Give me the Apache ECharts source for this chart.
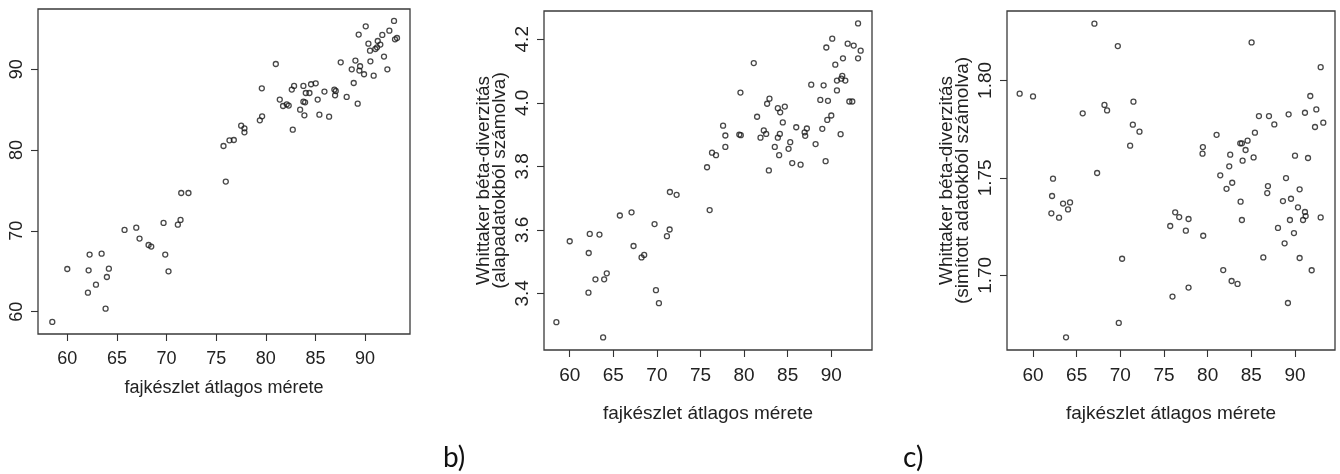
<!DOCTYPE html>
<html>
<head>
<meta charset="utf-8">
<script src="https://cdn.jsdelivr.net/npm/echarts@6/dist/echarts.min.js"></script>
<style>
  html, body { margin: 0; padding: 0; background: #fff; }
  #chart { width: 1340px; height: 474px; }
</style>
</head>
<body>
<div id="chart"></div>
<script>
// panel a: fajkészlet vs. ? (no y title)
const xA = [58.49,60.0,62.08,62.15,62.25,62.89,63.46,63.86,63.99,64.19,65.77,66.95,67.28,68.19,68.46,69.70,69.87,70.20,71.14,71.41,71.48,72.21,75.74,75.97,76.34,76.78,77.52,77.85,77.85,79.40,79.63,79.60,81.01,81.41,81.74,82.11,82.31,82.62,82.85,82.72,83.46,83.79,83.79,83.96,83.89,84.03,84.40,84.56,85.03,85.23,85.40,85.91,86.38,86.91,86.98,87.05,87.55,88.15,88.66,88.86,89.03,89.26,89.36,89.43,89.50,89.90,90.07,90.34,90.54,90.50,90.87,91.04,91.21,91.28,91.54,91.74,91.91,92.25,92.45,92.92,93.02,93.22]
const yA = [58.72,65.28,62.35,65.12,67.06,63.34,67.18,60.37,64.29,65.32,70.11,70.40,69.04,68.25,68.05,70.98,67.06,64.99,70.77,71.35,74.69,74.69,80.51,76.10,81.21,81.25,83.03,82.70,82.20,83.69,84.18,87.65,90.66,86.25,85.46,85.67,85.51,87.49,87.94,82.53,85.01,87.94,86.00,85.92,84.31,87.07,87.07,88.15,88.27,86.25,84.39,87.24,84.14,87.49,86.78,87.32,90.87,86.58,90.00,88.31,91.08,85.75,94.30,89.84,90.38,89.39,95.33,93.18,90.99,92.31,89.22,92.52,92.73,93.51,93.06,94.26,91.58,90.00,94.79,95.99,93.72,93.88]

// panel b: Whittaker béta-diverzitás (alapadatokból)
const xB = [58.47,60.0,62.15,62.18,62.30,62.95,63.41,63.83,63.95,64.25,65.75,67.09,67.32,68.24,68.54,69.73,69.89,70.23,71.15,71.46,71.49,72.26,75.75,76.05,76.32,76.78,77.59,77.85,77.85,79.45,79.58,79.62,81.11,81.49,81.88,82.26,82.53,82.64,82.91,82.84,83.52,83.87,83.87,84.02,84.14,84.10,84.44,84.67,85.10,85.29,85.52,85.98,86.48,86.94,87.01,87.20,87.70,88.20,88.74,88.97,89.12,89.35,89.43,89.62,89.54,90.0,90.11,90.46,90.65,90.65,91.07,91.15,91.26,91.34,91.61,91.88,92.07,92.41,92.57,93.07,93.07,93.37]
const yB = [3.309,3.564,3.402,3.527,3.587,3.444,3.585,3.261,3.444,3.463,3.645,3.655,3.549,3.513,3.521,3.618,3.410,3.369,3.580,3.601,3.719,3.710,3.797,3.662,3.843,3.835,3.928,3.897,3.861,3.900,4.032,3.898,4.125,3.956,3.890,3.913,3.902,3.997,4.013,3.787,3.861,3.983,3.890,3.835,3.970,3.902,3.938,3.988,3.855,3.876,3.810,3.923,3.805,3.907,3.896,3.919,4.057,3.870,4.009,3.918,4.055,3.816,4.174,4.006,3.946,3.960,4.202,4.120,4.039,4.070,3.901,4.076,4.085,4.140,4.070,4.186,4.004,4.004,4.180,4.250,4.140,4.164]

// panel c: Whittaker béta-diverzitás (simított adatokból)
const xC = [58.47,60.0,62.10,62.18,62.29,62.98,63.44,63.78,64.01,64.24,65.69,67.03,67.34,68.18,68.48,69.71,69.82,70.20,71.12,71.43,71.50,72.19,75.71,75.97,76.28,76.74,77.50,77.81,77.81,79.49,79.45,79.41,81.02,81.44,81.78,82.16,82.47,82.58,82.81,82.74,83.42,83.77,83.73,83.92,84.00,83.92,84.34,84.57,85.03,85.26,85.41,85.87,86.37,86.82,86.90,87.02,87.63,88.05,88.62,88.81,88.97,89.27,89.19,89.42,89.54,89.88,90.0,90.34,90.53,90.53,90.92,91.14,91.22,91.14,91.49,91.75,91.91,92.29,92.44,92.94,92.94,93.24]
const yC = [1.7932,1.7918,1.7318,1.7407,1.7496,1.7296,1.7368,1.6682,1.7338,1.7374,1.7831,1.8291,1.7525,1.7874,1.7846,1.8176,1.6756,1.7085,1.7665,1.7773,1.7891,1.7737,1.7253,1.6891,1.7323,1.7299,1.7229,1.7289,1.6937,1.7203,1.7658,1.7624,1.7721,1.7513,1.7027,1.7444,1.7559,1.7619,1.7475,1.6971,1.6956,1.7378,1.7677,1.7284,1.7588,1.7677,1.7643,1.7691,1.8195,1.7605,1.7732,1.7817,1.7092,1.7422,1.7458,1.7817,1.7774,1.7243,1.7381,1.7164,1.7499,1.7826,1.6858,1.7284,1.7393,1.7217,1.7614,1.7349,1.7441,1.7089,1.7284,1.7325,1.7304,1.7834,1.7602,1.7920,1.7026,1.7761,1.7851,1.8068,1.7297,1.7783]

const xTicks = [60, 65, 70, 75, 80, 85, 90]
const yTicksA = [60, 70, 80, 90]
const yTicksB = [3.4, 3.6, 3.8, 4.0, 4.2]
const yTicksC = [1.70, 1.75, 1.80]

const xTitle = 'fajkészlet átlagos mérete'
const yTitleB = 'Whittaker béta-diverzitás\n(alapadatokból számolva)'
const yTitleC = 'Whittaker béta-diverzitás\n(simított adatokból számolva)'

const FONT = 'Liberation Sans, Arial, sans-serif'
const INK = '#222'

function zip(xs, ys) {
  return xs.map((x, i) => [x, ys[i]])
}

function xAxis(idx, min, max, fontSize, nameGap, labelMargin) {
  return {
    type: 'value', gridIndex: idx, min, max,
    axisLine: { show: false },
    splitLine: { show: false },
    axisTick: { show: true, length: 7, customValues: xTicks, lineStyle: { color: '#333', width: 1.1 } },
    axisLabel: { customValues: xTicks, margin: labelMargin, fontSize, color: INK, fontFamily: FONT },
    name: xTitle, nameLocation: 'middle', nameGap,
    nameTextStyle: { fontSize, color: INK, fontFamily: FONT },
  }
}

function yAxis(idx, min, max, ticks, fontSize, decimals, name, nameGap) {
  return {
    type: 'value', gridIndex: idx, min, max,
    axisLine: { show: false },
    splitLine: { show: false },
    axisTick: { show: true, length: 7, customValues: ticks, lineStyle: { color: '#333', width: 1.1 } },
    axisLabel: {
      customValues: ticks, rotate: 90, margin: 12, fontSize, color: INK, fontFamily: FONT,
      formatter: (v) => v.toFixed(decimals),
    },
    name, nameLocation: 'middle', nameGap, nameRotate: 90,
    nameTextStyle: { fontSize, color: INK, fontFamily: FONT, lineHeight: 16 },
  }
}

function scatter(idx, data) {
  return {
    type: 'scatter', xAxisIndex: idx, yAxisIndex: idx, data,
    symbol: 'circle', symbolSize: 5,
    itemStyle: { color: 'rgba(0,0,0,0)', borderColor: '#1a1a1a', borderWidth: 1.3 },
    silent: true,
  }
}

const gridStyle = { show: true, borderColor: '#3a3a3a', borderWidth: 1.3, backgroundColor: '#fff', outerBoundsMode: 'none' }

const chart = echarts.init(document.getElementById('chart'), null, { renderer: 'canvas' })
chart.setOption({
  animation: false,
  backgroundColor: '#fff',
  title: [
    { text: 'b)', left: 438, top: 439, textStyle: { fontSize: 28, fontWeight: 'normal', color: '#111', fontFamily: 'Lato, Open Sans, sans-serif' } },
    { text: 'c)', left: 898, top: 439, textStyle: { fontSize: 28, fontWeight: 'normal', color: '#111', fontFamily: 'Lato, Open Sans, sans-serif' } },
  ],
  grid: [
    { ...gridStyle, left: 38, top: 9, width: 372, height: 325 },
    { ...gridStyle, left: 544, top: 11, width: 328, height: 339 },
    { ...gridStyle, left: 1007, top: 11, width: 328, height: 339 },
  ],
  xAxis: [
    xAxis(0, 57.05, 94.53, 18, 45, 16),
    xAxis(1, 57.05, 94.67, 19, 54, 16),
    xAxis(2, 57.02, 94.58, 19, 54, 16),
  ],
  yAxis: [
    yAxis(0, 57.23, 97.47, yTicksA, 18, 0, '', 0),
    yAxis(1, 3.2215, 4.289, yTicksB, 19, 1, yTitleB, 36),
    yAxis(2, 1.6617, 1.8356, yTicksC, 19, 2, yTitleC, 36),
  ],
  series: [
    scatter(0, zip(xA, yA)),
    scatter(1, zip(xB, yB)),
    scatter(2, zip(xC, yC)),
  ],
})
</script>
</body>
</html>
